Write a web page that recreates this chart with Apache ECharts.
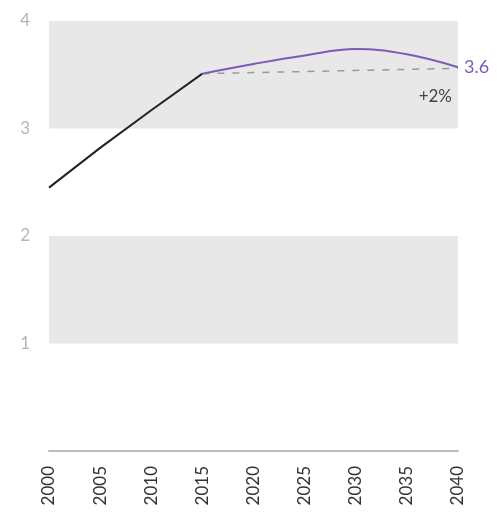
<!DOCTYPE html>
<html>
<head>
<meta charset="utf-8">
<script src="https://cdn.jsdelivr.net/npm/echarts@6/dist/echarts.min.js"></script>
<style>
  html, body { margin: 0; padding: 0; background: #fff; }
  #chart { width: 502px; height: 517px; }
</style>
</head>
<body>
<div id="chart"></div>
<script>
  // historic values
  let histYears = [2000, 2005, 2010, 2015]
  let histValues = [2.45, 2.82, 3.17, 3.51]
  // projection
  let projYears = [2015, 2020, 2025, 2030, 2035, 2040]
  let projValues = [3.51, 3.6, 3.68, 3.74, 3.69, 3.57]
  // flat reference
  let refYears = [2015, 2040]
  let refValues = [3.51, 3.56]
  let endText = '3.6'
  let refText = '+2%'

  function pairs(xs, ys) {
    return xs.map(function(x, i) { return [x, ys[i]] })
  }

  let myChart = echarts.init(document.getElementById('chart'))
  let option = {
    animation: false,
    textStyle: { fontFamily: 'Lato' },
    grid: { left: 49, right: 44, top: 21, bottom: 66 },
    xAxis: {
      type: 'value',
      min: 2000,
      max: 2040,
      interval: 5,
      axisLine: { show: true, lineStyle: { color: '#bbb', width: 2 } },
      axisTick: { show: false },
      splitLine: { show: false },
      axisLabel: {
        rotate: 90,
        margin: 15,
        fontSize: 17,
        color: '#333',
        formatter: function(v) { return String(v) }
      }
    },
    yAxis: {
      type: 'value',
      min: 0,
      max: 4,
      interval: 1,
      axisLine: { show: false },
      axisTick: { show: false },
      splitLine: { show: false },
      splitArea: { show: true, areaStyle: { color: ['rgba(0,0,0,0)', '#e8e8e8'] } },
      axisLabel: {
        margin: 19,
        fontSize: 17,
        color: '#b5b5b5',
        formatter: function(v) { return v === 0 ? '' : String(v) }
      }
    },
    series: [
      {
        type: 'line',
        data: pairs(histYears, histValues),
        showSymbol: false,
        lineStyle: { color: '#222', width: 2 }
      },
      {
        type: 'line',
        data: pairs(refYears, refValues),
        showSymbol: false,
        lineStyle: { color: '#999', width: 1.5, type: [7, 8] },
        endLabel: {
          show: true,
          formatter: refText,
          color: '#444',
          fontSize: 17,
          align: 'right',
          offset: [-14, 28]
        }
      },
      {
        type: 'line',
        data: pairs(projYears, projValues),
        showSymbol: false,
        smooth: 0.4,
        lineStyle: { color: '#7b5bb6', width: 2 },
        endLabel: {
          show: true,
          formatter: endText,
          color: '#7b5bb6',
          fontSize: 18,
          distance: 6
        }
      }
    ]
  }
  myChart.setOption(option)
  window.addEventListener('resize', function() {
    myChart.resize()
  })
</script>
</body>
</html>
